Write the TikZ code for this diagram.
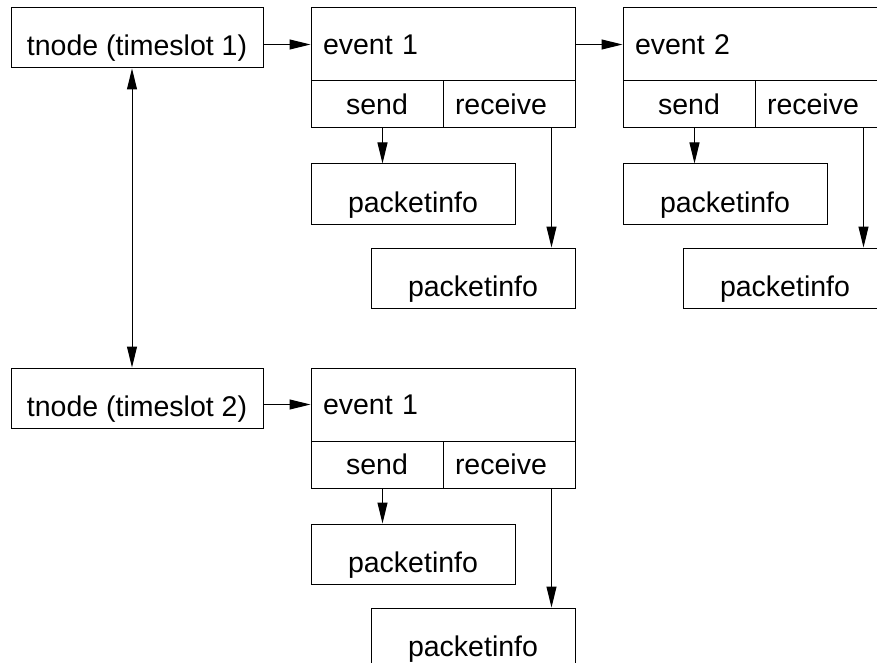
\documentclass[tikz,border=0pt]{standalone}
\usepackage{fontspec}
\setmainfont{Liberation Sans}
\usetikzlibrary{arrows.meta,positioning}

\begin{document}
\begin{tikzpicture}[x=1pt,y=-1pt,line width=1pt,
  >={Triangle[length=21pt,width=10pt]},
  font=\fontsize{28.5}{34}\selectfont,
  tbox/.style={draw,minimum width=252pt,minimum height=60pt,inner sep=2pt,text height=36pt,text depth=0pt},
  pbox/.style={draw,minimum width=204pt,minimum height=60pt,inner sep=2pt,text height=36pt,text depth=0pt},
  evbox/.style={draw,minimum height=73pt,inner xsep=12pt,text width=240pt,align=left},
  sbox/.style={draw,minimum width=132pt,minimum height=47pt},
  rbox/.style={draw,minimum height=47pt,inner xsep=12pt,text width=108pt,align=left}]

\useasboundingbox (0,0) rectangle (877,663);
\clip (0,0) rectangle (877,663);

% timeslots
\node[tbox] (t1) at (137,38) {tnode (timeslot 1)};
\node[tbox] (t2) at (137,398) {tnode (timeslot 2)};

% event 1 of timeslot 1
\node[evbox] (ev1) at (443,44.5) {event 1};
\node[sbox] (s1) at (377,104.5) {send};
\node[rbox] (r1) at (509,104.5) {receive};
\node[pbox] (p1a) at (413,194) {packetinfo};
\node[pbox] (p1b) at (473,278) {packetinfo};

% event 2 of timeslot 1
\node[evbox] (ev2) at (755,44.5) {event 2};
\node[sbox] (s2) at (689,104.5) {send};
\node[rbox] (r2) at (821,104.5) {receive};
\node[pbox] (p2a) at (725,194) {packetinfo};
\node[pbox] (p2b) at (785,278) {packetinfo};

% event 1 of timeslot 2
\node[evbox] (ev3) at (443,404.5) {event 1};
\node[sbox] (s3) at (377,464.5) {send};
\node[rbox] (r3) at (509,464.5) {receive};
\node[pbox] (p3a) at (413,554) {packetinfo};
\node[pbox] (p3b) at (473,638) {packetinfo};

\draw[->] (t1.east |- ev1.west) -- (ev1.west);
\draw[->] (ev1.east) -- (ev2.west);
\draw[->] (t2.east |- ev3.west) -- (ev3.west);
\draw[<->] ([xshift=-5pt]t1.south) -- ([xshift=-5pt]t2.north);

\draw[->] ([xshift=72pt]s1.south west) -- ([xshift=72pt]p1a.north west);
\draw[->] ([xshift=-24pt]r1.south east) -- ([xshift=-24pt]p1b.north east);
\draw[->] ([xshift=72pt]s2.south west) -- ([xshift=72pt]p2a.north west);
\draw[->] ([xshift=-24pt]r2.south east) -- ([xshift=-24pt]p2b.north east);
\draw[->] ([xshift=72pt]s3.south west) -- ([xshift=72pt]p3a.north west);
\draw[->] ([xshift=-24pt]r3.south east) -- ([xshift=-24pt]p3b.north east);

\end{tikzpicture}
\end{document}
